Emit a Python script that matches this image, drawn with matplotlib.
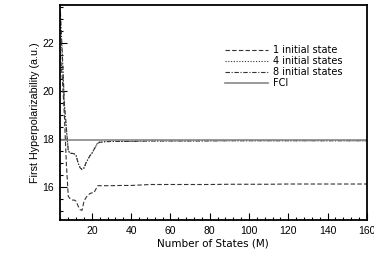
import matplotlib
matplotlib.use("Agg")
import matplotlib.pyplot as plt
from matplotlib.ticker import MultipleLocator

M = [4, 5, 6, 7, 8, 9, 10, 11, 12, 13, 14, 15, 16, 17, 18, 19, 20, 21, 22, 23,
     24, 25, 26, 28, 30, 35, 40, 45, 50, 60, 70, 80, 90, 100, 110, 120, 130,
     140, 150, 160]

one_state = [21.5, 20.5, 19.0, 17.0, 15.6, 15.5, 15.45, 15.45, 15.4, 15.2,
             15.05, 15.02, 15.4, 15.55, 15.65, 15.72, 15.75, 15.75, 15.9, 16.05,
             16.05, 16.05, 16.05, 16.05, 16.05, 16.06, 16.06, 16.08, 16.1, 16.1,
             16.1, 16.1, 16.11, 16.11, 16.11, 16.12, 16.12, 16.12, 16.12, 16.12]

four_states = [22.9, 21.3, 19.4, 18.4, 17.5, 17.42, 17.4, 17.38, 17.3, 17.0,
               16.8, 16.75, 16.8, 17.0, 17.15, 17.3, 17.4, 17.55, 17.7, 17.85,
               17.88, 17.88, 17.89, 17.9, 17.9, 17.9, 17.9, 17.91, 17.92, 17.92,
               17.92, 17.93, 17.93, 17.93, 17.93, 17.93, 17.93, 17.93, 17.93, 17.93]

eight_states = [23.3, 21.5, 19.5, 18.5, 17.5, 17.4, 17.4, 17.38, 17.3, 17.0,
                16.8, 16.72, 16.78, 17.0, 17.15, 17.3, 17.4, 17.55, 17.7, 17.82,
                17.86, 17.87, 17.88, 17.89, 17.9, 17.9, 17.9, 17.91, 17.92, 17.92,
                17.92, 17.92, 17.93, 17.93, 17.93, 17.93, 17.93, 17.93, 17.93, 17.93]

fci_value = 17.96

fig = plt.figure(figsize=(3.74, 2.64), dpi=100)
ax = fig.add_axes([0.160, 0.167, 0.821, 0.814])

lc = "#333333"
ax.plot(M, one_state, color=lc, lw=0.8, linestyle=(0, (4, 2)), label="1 initial state")
ax.plot(M, four_states, color=lc, lw=0.8, linestyle=(0, (1, 1.5)), label="4 initial states")
ax.plot(M, eight_states, color=lc, lw=0.8, linestyle=(0, (4, 1.5, 1, 1.5)), label="8 initial states")
ax.axhline(fci_value, color="#888888", lw=1.2, label="FCI")

ax.set_xlim(3.7, 160)
ax.set_ylim(14.62, 23.6)
ax.xaxis.set_major_locator(MultipleLocator(20))
ax.xaxis.set_minor_locator(MultipleLocator(4))
ax.yaxis.set_major_locator(MultipleLocator(2))
ax.yaxis.set_minor_locator(MultipleLocator(0.5))
ax.tick_params(which="both", direction="in", top=False, right=False, width=0.8,
               labelsize=7.5)
ax.tick_params(axis="x", which="major", pad=4.5)
ax.tick_params(axis="y", which="major", pad=4)
ax.tick_params(which="major", length=5)
ax.tick_params(which="minor", length=2.5)
for lab in ax.get_xticklabels() + ax.get_yticklabels():
    lab.set_family("Liberation Sans")
for s in ax.spines.values():
    s.set_linewidth(1.3)

ax.set_xlabel("Number of States (M)", fontsize=7.5, family="DejaVu Sans", labelpad=2)
ax.set_ylabel("First Hyperpolarizability (a.u.)", fontsize=7.7, family="Liberation Sans", labelpad=2)

leg = ax.legend(loc="upper left", bbox_to_anchor=(0.508, 0.855), frameon=False,
                handlelength=4.5, handletextpad=0.5, labelspacing=0.12,
                prop={"family": "DejaVu Sans", "size": 7})

fig.savefig("out.png", dpi=100)
